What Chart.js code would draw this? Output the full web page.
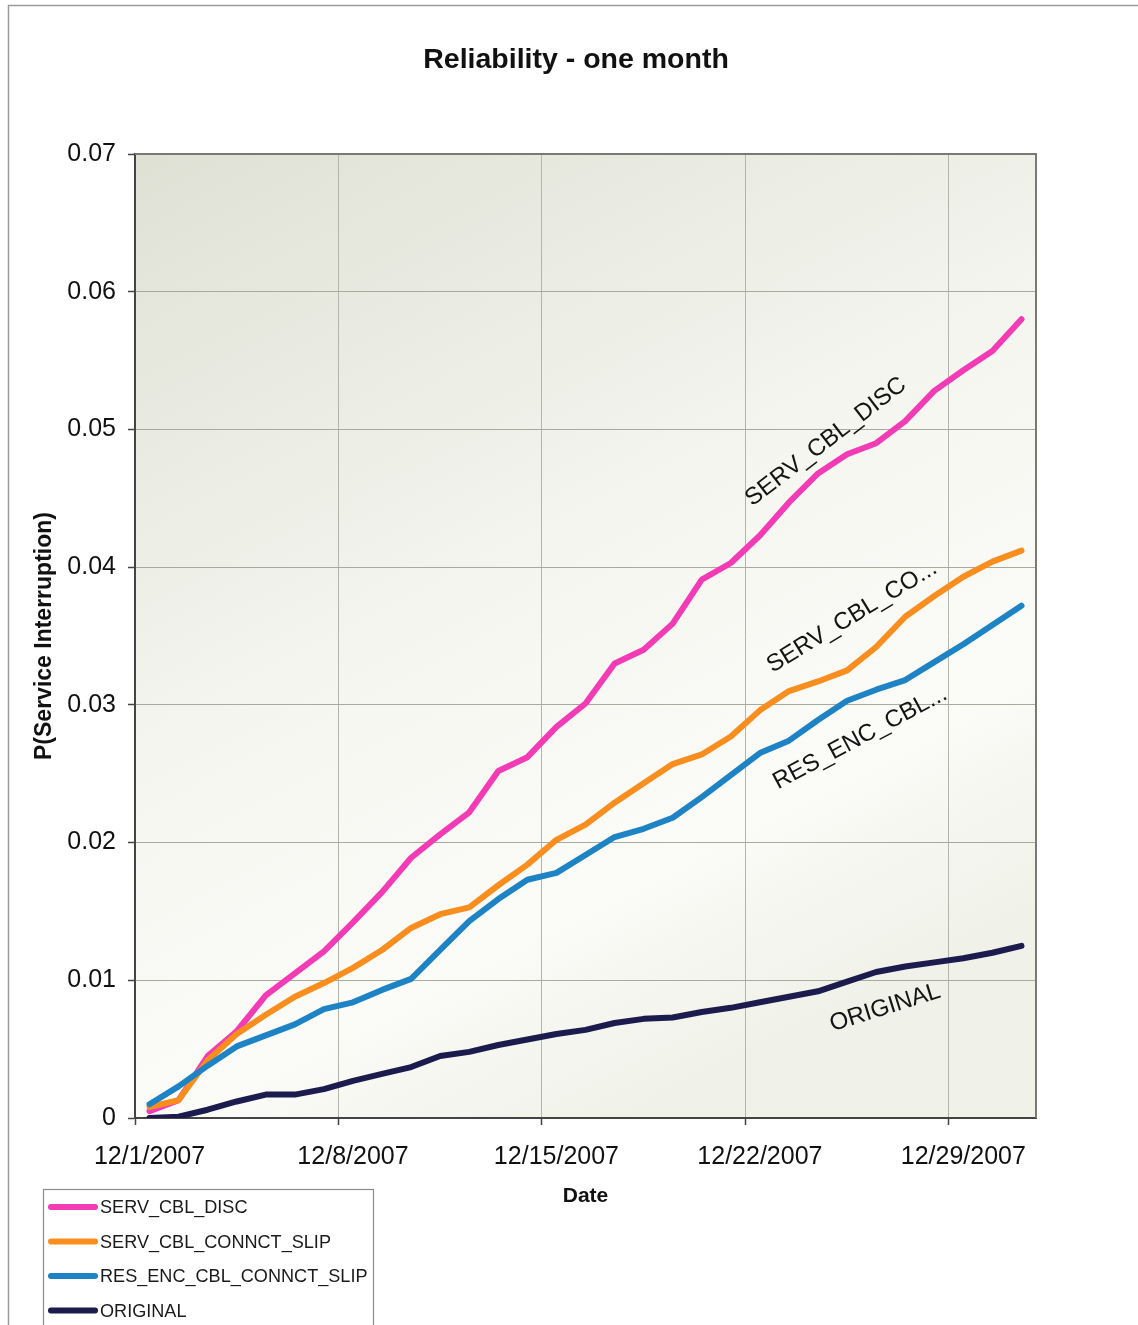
<!DOCTYPE html>
<html>
<head>
<meta charset="utf-8">
<title>Reliability - one month</title>
<script src="https://cdn.jsdelivr.net/npm/chart.js@4.4.1/dist/chart.umd.min.js"></script>
<style>
  html, body { margin: 0; padding: 0; background: #ffffff; }
  #wrap { width: 1138px; height: 1325px; position: relative; }
  canvas { display: block; }
</style>
</head>
<body>
<div id="wrap"><canvas id="chart" width="1138" height="1325"></canvas></div>
<script>
// Days of December 2007
const dates = [
  '12/1/2007', '12/2/2007', '12/3/2007', '12/4/2007', '12/5/2007', '12/6/2007', '12/7/2007',
  '12/8/2007', '12/9/2007', '12/10/2007', '12/11/2007', '12/12/2007', '12/13/2007', '12/14/2007',
  '12/15/2007', '12/16/2007', '12/17/2007', '12/18/2007', '12/19/2007', '12/20/2007', '12/21/2007',
  '12/22/2007', '12/23/2007', '12/24/2007', '12/25/2007', '12/26/2007', '12/27/2007', '12/28/2007',
  '12/29/2007', '12/30/2007', '12/31/2007'
];

// P(Service Interruption) per scenario
const servCblDisc = [
  0.0005, 0.0013, 0.0045, 0.0063, 0.0089, 0.0105, 0.0121, 0.0142, 0.0164, 0.0189, 0.0206,
  0.0222, 0.0252, 0.0262, 0.0284, 0.0301, 0.0330, 0.0340, 0.0359, 0.0391, 0.0403, 0.0423,
  0.0447, 0.0468, 0.0482, 0.0490, 0.0506, 0.0528, 0.0543, 0.0557, 0.0580
];
const servCblConnctSlip = [
  0.0008, 0.0013, 0.0042, 0.0061, 0.0075, 0.0088, 0.0098, 0.0109, 0.0122, 0.0138, 0.0148,
  0.0153, 0.0169, 0.0184, 0.0202, 0.0213, 0.0229, 0.0243, 0.0257, 0.0264, 0.0277, 0.0296,
  0.0310, 0.0317, 0.0325, 0.0342, 0.0364, 0.0379, 0.0393, 0.0404, 0.0412
];
const resEncCblConnctSlip = [
  0.0010, 0.0023, 0.0038, 0.0052, 0.0060, 0.0068, 0.0079, 0.0084, 0.0093, 0.0101, 0.0122,
  0.0143, 0.0159, 0.0173, 0.0178, 0.0191, 0.0204, 0.0210, 0.0218, 0.0233, 0.0249, 0.0265,
  0.0274, 0.0289, 0.0303, 0.0311, 0.0318, 0.0331, 0.0344, 0.0358, 0.0372
];
const original = [
  0.0000, 0.0001, 0.0006, 0.0012, 0.0017, 0.0017, 0.0021, 0.0027, 0.0032, 0.0037, 0.0045,
  0.0048, 0.0053, 0.0057, 0.0061, 0.0064, 0.0069, 0.0072, 0.0073, 0.0077, 0.0080, 0.0084,
  0.0088, 0.0092, 0.0099, 0.0106, 0.0110, 0.0113, 0.0116, 0.0120, 0.0125
];

const seriesNames = ['SERV_CBL_DISC', 'SERV_CBL_CONNCT_SLIP', 'RES_ENC_CBL_CONNCT_SLIP', 'ORIGINAL'];
const seriesColors = ['#f43bb6', '#f98e1f', '#1d83c5', '#1b1b4d'];

// Short in-plot captions: text, series, centre (day index, value), angle in degrees
const lineCaptions = [
  { text: 'SERV_CBL_DISC',  series: 0, day: 23.27, value: 0.0491, angle: -37.5 },
  { text: 'SERV_CBL_CO...', series: 1, day: 24.17, value: 0.0364, angle: -31.4 },
  { text: 'RES_ENC_CBL...', series: 2, day: 24.45, value: 0.0276, angle: -28.2 },
  { text: 'ORIGINAL',       series: 3, day: 25.31, value: 0.0080, angle: -17.4 }
];

const chartTitle = 'Reliability - one month';

const FONT = '"Liberation Sans", Arial, Helvetica, sans-serif';
const LABEL_EVERY = 7;

// Plot background, title, plot frame, outer frame, captions and legend
const decorPlugin = {
  id: 'decor',
  beforeDraw(chart) {
    const { ctx, chartArea: a } = chart;
    ctx.save();
    ctx.fillStyle = '#ffffff';
    ctx.fillRect(0, 0, chart.width, chart.height);
    const g = ctx.createLinearGradient(a.left, a.top, a.left + a.width * 0.55, a.bottom);
    g.addColorStop(0, '#dfe1d5');
    g.addColorStop(0.55, '#f6f7f1');
    g.addColorStop(0.8, '#fbfbf8');
    g.addColorStop(1, '#f0f1e8');
    ctx.fillStyle = g;
    ctx.fillRect(a.left, a.top, a.width, a.height);
    // outer chart frame
    ctx.strokeStyle = '#9a9a9a';
    ctx.lineWidth = 1.5;
    ctx.beginPath();
    ctx.moveTo(8.5, chart.height + 2);
    ctx.lineTo(8.5, 5.5);
    ctx.lineTo(chart.width + 2, 5.5);
    ctx.stroke();
    // chart title
    ctx.fillStyle = '#111111';
    ctx.font = 'bold 28.5px ' + FONT;
    ctx.textAlign = 'center';
    ctx.textBaseline = 'middle';
    ctx.fillText(chartTitle, 576, 60);
    ctx.restore();
  },
  afterDatasetsDraw(chart) {
    const { ctx, chartArea: a, scales } = chart;
    ctx.save();
    // top and right edges of the plot area
    ctx.strokeStyle = '#7a7a72';
    ctx.lineWidth = 2;
    ctx.beginPath();
    ctx.moveTo(a.left, a.top);
    ctx.lineTo(a.right, a.top);
    ctx.lineTo(a.right, a.bottom);
    ctx.stroke();

    // captions along the lines
    ctx.fillStyle = '#141414';
    ctx.font = '24px ' + FONT;
    ctx.textAlign = 'center';
    ctx.textBaseline = 'middle';
    lineCaptions.forEach(c => {
      const x = scales.x.getPixelForValue(c.day);
      const y = scales.y.getPixelForValue(c.value);
      ctx.save();
      ctx.translate(x, y);
      ctx.rotate(c.angle * Math.PI / 180);
      ctx.fillText(c.text, 0, 0);
      ctx.restore();
    });

    // legend box, lower left
    const lx = 43, ly = 1189, lw = 330;
    ctx.strokeStyle = '#8c8c8c';
    ctx.lineWidth = 1.2;
    ctx.strokeRect(lx + 0.5, ly + 0.5, lw, chart.height - ly + 10);
    ctx.font = '18.1px ' + FONT;
    ctx.textAlign = 'left';
    ctx.textBaseline = 'middle';
    seriesNames.forEach((name, i) => {
      const cy = ly + 18 + i * 34.5;
      ctx.strokeStyle = seriesColors[i];
      ctx.lineWidth = 6;
      ctx.lineCap = 'round';
      ctx.beginPath();
      ctx.moveTo(51, cy);
      ctx.lineTo(95, cy);
      ctx.stroke();
      ctx.fillStyle = '#1a1a1a';
      ctx.fillText(name, 100, cy + 1);
    });
    ctx.restore();
  }
};

const seriesData = [servCblDisc, servCblConnctSlip, resEncCblConnctSlip, original];

const datasets = seriesNames.map((name, i) => ({
  label: name,
  data: seriesData[i],
  borderColor: seriesColors[i],
  backgroundColor: seriesColors[i],
  borderWidth: 6,
  pointRadius: 0,
  tension: 0,
  fill: false,
  borderJoinStyle: 'round',
  borderCapStyle: 'round',
  order: seriesNames.length - i
}));

new Chart(document.getElementById('chart'), {
  type: 'line',
  data: { labels: dates, datasets },
  plugins: [decorPlugin],
  options: {
    responsive: false,
    animation: false,
    devicePixelRatio: 1,
    layout: { padding: { left: 0, right: 102, top: 154, bottom: 0 } },
    plugins: {
      legend: { display: false },
      tooltip: { enabled: false },
      title: { display: false }
    },
    scales: {
      x: {
        type: 'category',
        offset: true,
        afterFit(scale) { scale.height = 207; },
        grid: {
          offset: true,
          drawOnChartArea: true,
          lineWidth: 1,
          color: ctx => (ctx.index !== undefined && ctx.index > 0 && ctx.index % LABEL_EVERY === 0) ? '#b4b5aa' : 'rgba(0,0,0,0)',
          tickColor: ctx => (ctx.index !== undefined && ctx.index % LABEL_EVERY === 0) ? '#444444' : 'rgba(0,0,0,0)',
          tickLength: 7,
          tickWidth: 1.5
        },
        border: { display: true, color: '#444444', width: 2 },
        ticks: {
          autoSkip: false,
          maxRotation: 0,
          minRotation: 0,
          padding: 17,
          color: '#111111',
          font: { family: FONT, size: 25 },
          callback(value, index) { return index % LABEL_EVERY === 0 ? dates[index] : ''; }
        },
        title: {
          display: true,
          text: 'Date',
          color: '#111111',
          font: { family: FONT, size: 21, weight: 'bold' },
          padding: { top: 0, bottom: 116 }
        }
      },
      y: {
        min: 0,
        max: 0.07,
        afterFit(scale) { scale.width = 135; },
        grid: {
          color: '#a9aa9f',
          lineWidth: 1,
          tickColor: '#444444',
          tickLength: 7,
          tickWidth: 1.5
        },
        border: { display: true, color: '#444444', width: 2 },
        ticks: {
          stepSize: 0.01,
          padding: 12,
          color: '#111111',
          font: { family: FONT, size: 25 },
          callback(value) { return value === 0 ? '0' : value.toFixed(2); }
        },
        title: {
          display: true,
          text: 'P(Service Interruption)',
          color: '#111111',
          font: { family: FONT, size: 23, weight: 'bold' },
          padding: { top: 31, bottom: 0 }
        }
      }
    }
  }
});
</script>
</body>
</html>
